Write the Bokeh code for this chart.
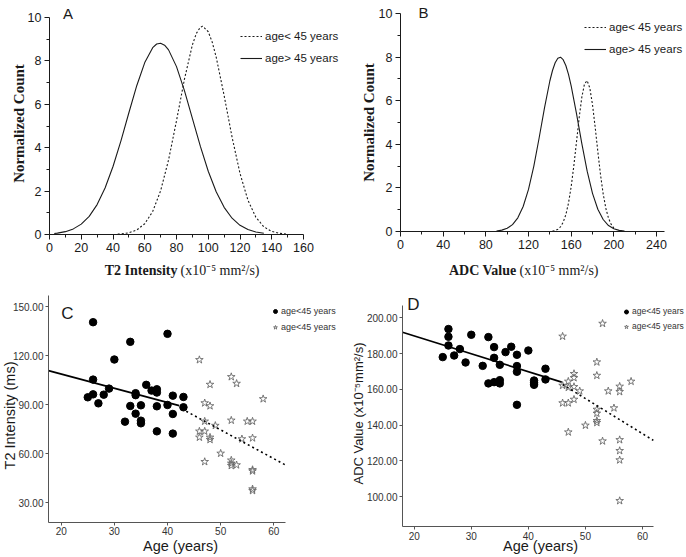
import math
from bokeh.plotting import figure
from bokeh.models import (Label, FixedTicker, Legend, LegendItem, PrintfTickFormatter,
                          LinearAxis, Range1d)
from bokeh.embed import file_html
from bokeh.resources import INLINE

# ---------------- data ----------------
# Panel A: T2 intensity distributions (normalized count)
a_old_x = [3, 5, 10, 15, 20, 25, 30, 35, 40, 45, 50, 55, 60, 65, 67.5, 70, 72.5, 75, 80, 85, 90, 95,
           100, 105, 110, 115, 120, 125, 130, 135]
a_old_y = [0.046, 0.062, 0.131, 0.258, 0.478, 0.836, 1.379, 2.141, 3.132, 4.318, 5.610, 6.868, 7.922,
           8.610, 8.778, 8.817, 8.726, 8.508, 7.736, 6.628, 5.350, 4.069, 2.916, 1.969, 1.253, 0.751,
           0.424, 0.226, 0.113, 0.054]
a_young_x = [43, 45, 50, 55, 60, 65, 70, 75, 80, 85, 90, 92.5, 95, 96.5, 100, 102.5, 105, 110, 115,
             120, 125, 130, 135, 140, 145, 150]
a_young_y = [0.017, 0.026, 0.079, 0.209, 0.497, 1.059, 2.016, 3.437, 5.243, 7.156, 8.740, 9.264, 9.552,
             9.600, 9.343, 8.862, 8.176, 6.403, 4.487, 2.814, 1.579, 0.793, 0.356, 0.143, 0.052, 0.017]

# Panel B: ADC value distributions
b_old_x = [90, 95, 100, 105, 110, 115, 120, 125, 130, 135, 140, 142.5, 145, 147.5, 150, 152.5, 155,
           157.5, 160, 165, 170, 175, 180, 185, 190, 195, 200, 205, 210]
b_old_y = [0.025, 0.063, 0.147, 0.315, 0.626, 1.146, 1.932, 3.002, 4.300, 5.675, 6.904, 7.385, 7.740,
           7.948, 7.997, 7.883, 7.614, 7.206, 6.683, 5.405, 4.028, 2.767, 1.752, 1.022, 0.550, 0.272,
           0.124, 0.052, 0.020]
b_young_x = [142.5, 145, 147.5, 150, 152.5, 155, 157.5, 160, 162.5, 165, 167.5, 170, 172.5, 175,
             177.5, 180, 182.5, 185, 187.5, 190, 192.5, 195, 197.5, 200]
b_young_y = [0.019, 0.045, 0.102, 0.216, 0.422, 0.769, 1.304, 2.055, 3.015, 4.113, 5.220, 6.164, 6.771,
             6.920, 6.579, 5.818, 4.786, 3.664, 2.609, 1.728, 1.065, 0.611, 0.326, 0.162]

# Panel C: T2 intensity vs age
c_young_age = [26, 40, 33, 30, 26, 36, 37, 38, 38, 29, 34, 34, 26, 28, 25, 41, 43, 27, 33, 35, 38, 40,
               43, 34, 41, 32, 35, 35, 38, 41]
c_young_t2 = [140.4, 133.3, 128.4, 117.6, 105.3, 102.1, 98.6, 99.4, 97.4, 99.8, 97.0, 95.8, 96.3, 96.1,
              94.5, 95.5, 94.7, 90.8, 89.2, 89.6, 89.0, 89.8, 88.4, 84.5, 84.3, 79.6, 80.2, 78.6, 73.7, 72.3]
c_old_age = [46, 52, 53, 48, 58, 47, 48, 52, 55, 56, 47, 49, 46, 47, 46, 48, 48, 54, 56, 50, 47, 52, 52,
             52, 53, 56, 56, 56, 56]
c_old_t2 = [117.4, 107.0, 102.9, 102.3, 93.5, 91.0, 89.2, 80.4, 79.8, 79.8, 79.8, 77.2, 73.7, 73.7, 70.0,
            70.0, 68.6, 69.0, 69.6, 60.2, 55.1, 56.0, 54.1, 52.7, 53.1, 50.2, 49.4, 38.4, 37.4]
c_fit_young_x = [17.6, 42.2]
c_fit_young_y = [110.8, 89.4]
c_fit_old_x = [42.7, 62.2]
c_fit_old_y = [87.4, 53.1]

# Panel D: ADC value vs age
d_young_age = [26, 26, 26, 28, 25, 27, 29, 30, 33, 32, 34, 34, 35, 33, 34, 35, 35, 36, 37, 38, 38, 38,
               38, 40, 41, 41, 41, 43, 43]
d_young_adc = [193.7, 189.4, 184.5, 182.5, 178.0, 178.9, 175.0, 190.5, 189.2, 173.1, 183.6, 177.6, 173.7,
               163.3, 164.0, 165.1, 163.3, 180.8, 183.8, 179.3, 173.0, 169.8, 151.3, 181.7, 164.9, 163.6,
               162.5, 171.5, 165.5]
d_old_age = [53, 46, 52, 52, 48, 48, 47, 46, 47, 48, 49, 54, 56, 56, 58, 46, 47, 48, 55, 52, 52, 52, 52,
             50, 47, 53, 56, 56, 56, 56]
d_old_adc = [196.8, 189.6, 175.2, 167.7, 168.7, 166.4, 164.4, 162.1, 161.0, 161.4, 159.0, 159.0, 161.6,
             158.6, 164.4, 152.3, 152.3, 154.3, 149.5, 148.7, 146.5, 142.4, 141.3, 139.8, 136.0, 131.0,
             131.7, 125.6, 120.4, 97.6]
d_fit_young_x = [17.95, 45.85]
d_fit_young_y = [191.9, 164.0]
d_fit_old_x = [46.0, 61.9]
d_fit_old_y = [162.7, 131.4]

# tick values
ab_y_ticks = [0, 2, 4, 6, 8, 10]
ab_y_minor = [1, 3, 5, 7, 9]
a_x_ticks = [0, 20, 40, 60, 80, 100, 120, 140, 160]
a_x_minor = [10, 30, 50, 70, 90, 110, 130, 150]
b_x_ticks = [0, 40, 80, 120, 160, 200, 240]
b_x_minor = [20, 60, 100, 140, 180, 220]
cd_x_ticks = [20, 30, 40, 50, 60]
c_y_ticks = [30, 60, 90, 120, 150]
d_y_ticks = [100, 120, 140, 160, 180, 200]

legend_ab = ["age< 45 years", "age> 45 years"]
legend_cd = ["age<45 years", "age<45 years"]

# ---------------- canvas ----------------
W, H = 686, 554
SANS = "Liberation Sans"
SERIF = "Liberation Serif"
INK = "#1a1a1a"

p = figure(width=W, height=H, x_range=(0, W), y_range=(0, H), x_axis_type=None, y_axis_type=None,
           output_backend="svg", toolbar_location=None, title=None,
           min_border=0, min_border_left=0, min_border_right=0, min_border_top=0, min_border_bottom=0)
p.outline_line_color = None
p.background_fill_color = "white"
p.border_fill_color = "white"


def panel(name, xmap, ymap):
    """Add a pair of ranges spanning the whole canvas, so that the given data values land
    on the given pixel positions (page pixels, y downward)."""
    (v1, q1), (v2, q2) = xmap
    sx = (q2 - q1) / (v2 - v1)
    p.extra_x_ranges[name + "x"] = Range1d(v1 - q1 / sx, v1 + (W - q1) / sx)
    (u1, r1), (u2, r2) = ymap
    sy = (r2 - r1) / (u2 - u1)
    p.extra_y_ranges[name + "y"] = Range1d(u1 + (H - r1) / sy, u1 - r1 / sy)
    return dict(x_range_name=name + "x", y_range_name=name + "y")


def axes(rn, xb, yb, xt, xm, yt, ym, color, lsize, lcolor, tick_out, minor_out, standoff, fmt=None):
    xa = LinearAxis(fixed_location=yb[0], bounds=xb, ticker=FixedTicker(ticks=xt, minor_ticks=xm), **rn)
    ya = LinearAxis(fixed_location=xb[0], bounds=yb, ticker=FixedTicker(ticks=yt, minor_ticks=ym), **rn)
    if fmt:
        ya.formatter = PrintfTickFormatter(format=fmt)
    for ax in (xa, ya):
        ax.axis_line_color = color
        ax.axis_line_width = 1
        ax.major_tick_line_color = color
        ax.minor_tick_line_color = color if minor_out else None
        ax.major_tick_in = 0
        ax.major_tick_out = tick_out
        ax.minor_tick_in = 0
        ax.minor_tick_out = minor_out
        ax.major_label_text_font = SANS
        ax.major_label_text_font_size = lsize
        ax.major_label_text_color = lcolor
        ax.major_label_standoff = standoff
    p.add_layout(xa, "below")
    p.add_layout(ya, "left")


def text(px, py, s, size, font=SANS, style="normal", angle=0.0, align="center",
         baseline="middle", color=INK):
    p.add_layout(Label(x=px, y=H - py, text=s, text_font=font, text_font_size=size,
                       text_font_style=style, angle=angle, text_align=align,
                       text_baseline=baseline, text_color=color))


def legend(items, left, bottom, gw, gh, spacing, standoff, fsize, color):
    p.add_layout(Legend(items=[LegendItem(label=l, renderers=[r]) for l, r in items],
                        location=(left, H - bottom), border_line_color=None,
                        background_fill_alpha=0, padding=0, margin=0, spacing=spacing,
                        glyph_width=gw, glyph_height=gh, label_height=gh, label_standoff=standoff,
                        label_text_font=SANS, label_text_font_size=fsize, label_text_color=color))


# ---------------- Panel A ----------------
ra = panel("a", ((0, 49), (160, 303)), ((0, 234), (10, 17)))
ra_young = p.line(a_young_x, a_young_y, line_color=INK, line_width=1.1, line_dash="2 2", **ra)
ra_old = p.line(a_old_x, a_old_y, line_color=INK, line_width=1.1, **ra)
axes(ra, (0, 160), (0, 10), a_x_ticks, a_x_minor, ab_y_ticks, ab_y_minor, INK, "12.5px", INK, 5, 3, 3)
legend([(legend_ab[0], ra_young), (legend_ab[1], ra_old)], 240, 67, 22, 18, 4, 3, "11.5px", INK)
text(67.5, 13, "A", "15px")
text(18, 123, "Normalized Count", "15px", font=SERIF, style="bold", angle=math.pi / 2)
text(177, 270, "T2 Intensity", "14px", font=SERIF, style="bold", align="right", baseline="alphabetic")
text(180, 270, "(x10\u207b\u2075 mm\u00b2/s)", "14px", font=SERIF, align="left", baseline="alphabetic")

# ---------------- Panel B ----------------
rb = panel("b", ((0, 400), (240, 656)), ((0, 231), (10, 13)))
rb_young = p.line(b_young_x, b_young_y, line_color=INK, line_width=1.1, line_dash="2 2", **rb)
rb_old = p.line(b_old_x, b_old_y, line_color=INK, line_width=1.1, **rb)
axes(rb, (0, 247.5), (0, 10), b_x_ticks, b_x_minor, ab_y_ticks, ab_y_minor, INK, "12.5px", INK, 5, 3, 3)
legend([(legend_ab[0], rb_young), (legend_ab[1], rb_old)], 584, 58, 22, 18, 4, 3, "11.5px", INK)
text(423, 11.5, "B", "15px")
text(368, 122, "Normalized Count", "15px", font=SERIF, style="bold", angle=math.pi / 2)
text(516, 270, "ADC Value", "14px", font=SERIF, style="bold", align="right", baseline="alphabetic")
text(519, 270, "(x10\u207b\u2075 mm\u00b2/s)", "14px", font=SERIF, align="left", baseline="alphabetic")

# ---------------- Panel C ----------------
rc = panel("c", ((20, 60.7), (60, 273.3)), ((30, 502.3), (150, 306)))
rc_y = p.scatter(c_young_age, c_young_t2, marker="circle", size=7.5, fill_color="black",
                 line_color="black", **rc)
rc_o = p.scatter(c_old_age, c_old_t2, marker="star", size=8, fill_color=None, line_color="#6a6a6a",
                 line_width=0.9, **rc)
p.line(c_fit_young_x, c_fit_young_y, line_color="black", line_width=1.6, **rc)
p.line(c_fit_old_x, c_fit_old_y, line_color="black", line_width=1.6, line_dash="2 3", **rc)
axes(rc, (17.61, 62.2), (17.96, 156.72), cd_x_ticks, [], c_y_ticks, [], "#555555", "10px", "#333333",
     3, 0, 2, fmt="%.2f")
legend([(legend_cd[0], rc_y), (legend_cd[1], rc_o)], 270, 334, 10, 14, 2, 1, "9px", "#333333")
text(67, 313, "C", "17px")
text(9.5, 415, "T2 Intensity (ms)", "14.5px", angle=math.pi / 2)
text(180, 545, "Age (years)", "14.5px")

# ---------------- Panel D ----------------
rd = panel("d", ((20, 413.7), (60, 642)), ((100, 496), (200, 317.3)))
rd_y = p.scatter(d_young_age, d_young_adc, marker="circle", size=7.5, fill_color="black",
                 line_color="black", **rd)
rd_o = p.scatter(d_old_age, d_old_adc, marker="star", size=8, fill_color=None, line_color="#6a6a6a",
                 line_width=0.9, **rd)
p.line(d_fit_young_x, d_fit_young_y, line_color="black", line_width=1.6, **rd)
p.line(d_fit_old_x, d_fit_old_y, line_color="black", line_width=1.6, line_dash="2 3", **rd)
axes(rd, (17.95, 61.93), (83.21, 206.88), cd_x_ticks, [], d_y_ticks, [], "#555555", "10px", "#333333",
     3, 0, 2, fmt="%.2f")
legend([(legend_cd[0], rd_y), (legend_cd[1], rd_o)], 621, 332.5, 10, 13, 2, 1, "8.5px", "#333333")
text(413, 303.5, "D", "17px")
text(358, 413, "ADC Value (x10\u207b\u2075mm\u00b2/s)", "13px", angle=math.pi / 2)
text(540, 545, "Age (years)", "14.5px")

open("out.html", "w").write(file_html(p, INLINE))
